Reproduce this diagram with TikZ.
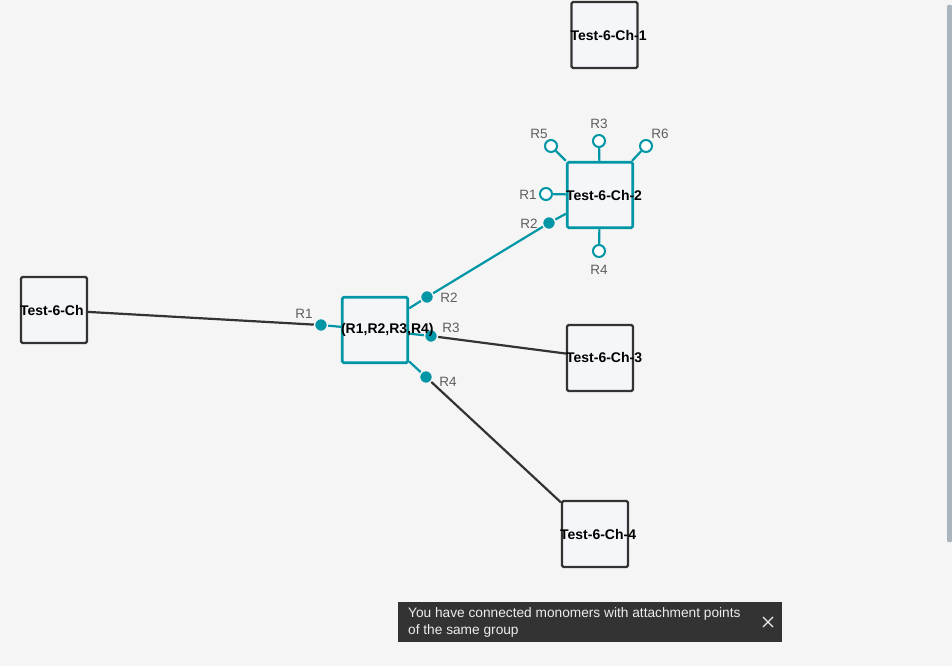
\documentclass[tikz,border=0pt]{standalone}
\usepackage{fontspec}
\setmainfont{Liberation Sans}
\definecolor{bg}{HTML}{F5F5F5}
\definecolor{tealc}{HTML}{0096A6}
\definecolor{darkc}{HTML}{333333}
\definecolor{boxfill}{HTML}{F4F6F9}
\definecolor{labgray}{HTML}{5E5E5E}
\definecolor{toastc}{HTML}{333333}
\definecolor{toasttxt}{HTML}{EDEDED}
\definecolor{scrollc}{HTML}{AAB4BD}
\begin{document}
\begin{tikzpicture}[x=1pt,y=-1pt,
  mon/.style={rectangle, draw=darkc, line width=2.2pt, fill=boxfill, minimum size=66pt, inner sep=0pt, rounded corners=1.5pt},
  monsel/.style={mon, draw=tealc, line width=2.8pt, minimum size=65.5pt},
  montxt/.style={anchor=west, inner sep=0pt, font=\fontsize{14}{16}\selectfont\bfseries, text=black},
  apfill/.style={circle, fill=tealc, draw=bg, line width=1.5pt, minimum size=13pt, inner sep=0pt},
  apopen/.style={circle, fill=white, draw=tealc, line width=2pt, minimum size=12pt, inner sep=0pt},
  aplab/.style={inner sep=0pt, font=\fontsize{13.5}{15}\selectfont, text=labgray},
  stub/.style={draw=tealc, line width=2.2pt},
  link/.style={draw=darkc, line width=2.2pt},
  tlink/.style={draw=tealc, line width=2.2pt}]
\fill[bg] (0,0) rectangle (952,666);
\useasboundingbox (0,0) rectangle (952,666);
% scrollbar
\fill[scrollc, rounded corners=1pt] (947,5) rectangle (952,542);

% monomers
\node[mon] (c1) at (604.5,35) {};
\node[montxt] (c1t) at (c1.west) {Test-6-Ch-1};
\node[monsel] (c2) at (600,195) {};
\node[mon] (c0) at (54,310) {};
\node[monsel] (cen) at (375,330) {};
\node[mon] (c3) at (600,358) {};
\node[mon] (c4) at (595,534) {};

% attachment points of central
\node[apfill] (a1) at (321,325) {};
\node[apfill] (a2) at (427,297) {};
\node[apfill] (a3) at (431,336) {};
\node[apfill] (a4) at (426,377) {};
% attachment points of Ch-2
\node[apopen] (b5) at (551,146) {};
\node[apopen] (b3) at (599,141) {};
\node[apopen] (b6) at (646,146) {};
\node[apopen] (b1) at (546,194) {};
\node[apfill] (b2) at (549,223) {};
\node[apopen] (b4) at (599,251) {};

% stubs
\path[stub] (a1) -- (cen);
\path[stub] (a2) -- (cen);
\path[stub] (a3) -- (cen);
\path[stub] (a4) -- (cen);
\path[stub] (b5) -- (c2);
\path[stub] (b3) -- (c2);
\path[stub] (b6) -- (c2);
\path[stub] (b1) -- (c2);
\path[stub] (b2) -- (c2);
\path[stub] (b4) -- (c2);

% links
\path[link] (c0) -- (a1);
\path[tlink] (a2) -- (b2);
\path[link] (a3) -- (c3);
\path[link] (a4) -- (c4);

% texts on top
\node[montxt] at (c2.west) {Test-6-Ch-2};
\node[montxt] at (c0.west) {Test-6-Ch};
\node[montxt] at (cen.west) {(R1,R2,R3,R4)};
\node[montxt] at (c3.west) {Test-6-Ch-3};
\node[montxt] at ([xshift=-1pt]c4.west) {Test-6-Ch-4};

% labels
\node[aplab] (la1) at (304,314) {R1};
\node[aplab] (la2) at (449,298) {R2};
\node[aplab] (la3) at (451,328) {R3};
\node[aplab] (la4) at (448,382) {R4};
\node[aplab] (lb5) at (539,134) {R5};
\node[aplab] (lb3) at (599,124) {R3};
\node[aplab] (lb6) at (660,134) {R6};
\node[aplab] (lb1) at (528,195) {R1};
\node[aplab] (lb2) at (529,224) {R2};
\node[aplab] (lb4) at (599,270) {R4};

% toast
\node[rectangle, fill=toastc, minimum width=384pt, minimum height=40pt, inner sep=0pt, anchor=north west] (toast) at (398,602) {};
\node[anchor=north west, inner sep=0pt, align=left, text=toasttxt, font=\fontsize{13.7}{17}\selectfont] (toastt) at (408,607) {You have connected monomers with attachment points\\of the same group};
\coordinate (xc) at (768,622);
\draw[toasttxt, line width=1.3pt] ([shift={(-5,-5)}]xc) -- ([shift={(5,5)}]xc);
\draw[toasttxt, line width=1.3pt] ([shift={(-5,5)}]xc) -- ([shift={(5,-5)}]xc);
\end{tikzpicture}
\end{document}
